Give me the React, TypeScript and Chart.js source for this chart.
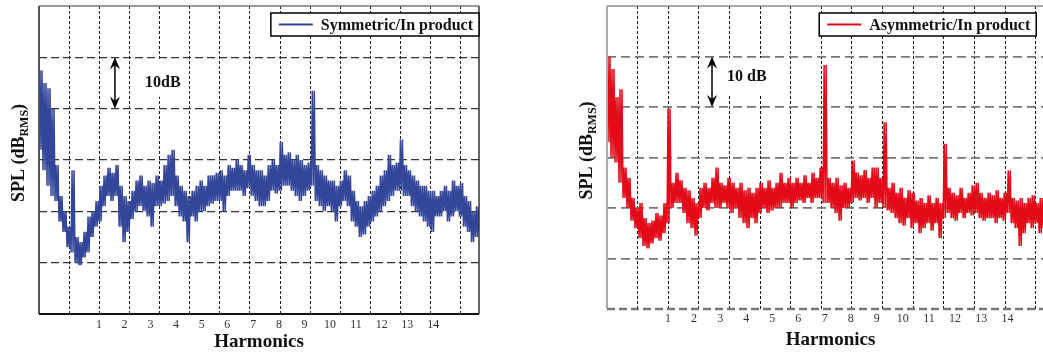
import React, { useEffect, useRef } from "react";
import { Chart, registerables } from "chart.js";

Chart.register(...registerables);

// ---- axis data ----
const harmonicLabels = ["1", "2", "3", "4", "5", "6", "7", "8", "9", "10", "11", "12", "13", "14"];
const harmonicTickPos = [1.99, 2.84, 3.7, 4.55, 5.4, 6.25, 7.11, 7.96, 8.81, 9.66, 10.52, 11.37, 12.22, 13.08];
const gridTickPos = [1, 2, 3, 4, 5, 6, 7, 8, 9, 10, 11, 12, 13, 14];
const dbGridTicks = [10, 20, 30, 40, 50];
const X_MAX = 14.6;
const Y_MIN = 0;
const Y_MAX = 60;

// ---- series (dB, upper / lower edge of the noisy trace, one pair per sample) ----
const symmetricHi = [
  47.5, 45, 44, 40, 29, 23, 20, 17, 28, 15, 14, 16, 19, 20, 22, 25, 27, 28.5, 27.5, 29,
  25, 23, 22, 24, 26, 27, 25, 26, 25.5, 27, 26, 29, 31, 32, 27, 25, 24, 23, 24, 25,
  26, 25, 27, 27, 27.5, 28, 27, 29, 28.5, 30, 29, 28, 31, 29, 28, 28, 27, 29, 30, 29,
  33.5, 31, 31.5, 30, 31, 30, 29, 29.5, 43.5, 29, 28, 27, 26, 26, 25, 26, 28, 27, 24, 22,
  21, 22, 23, 24, 25, 27, 28, 31, 29, 29.5, 34, 29, 28, 27, 26, 25, 25, 24, 24, 23,
  24, 25, 24, 26, 25, 25.5, 23, 22, 20, 21, 20,
];
const symmetricLo = [
  32, 28, 25, 23, 22, 18, 16, 13, 12, 10, 9.5, 11, 12, 15, 17, 18, 21, 23, 22, 23,
  17, 14, 16, 18.5, 20, 21, 20, 19, 17, 21, 21, 21.5, 22, 23, 21, 19, 18, 14, 19, 18,
  20, 20, 21, 21.5, 22, 22, 20, 23, 24, 24, 24, 23, 24.5, 23, 22, 21, 21, 22, 24, 23.5,
  24, 25, 25, 24, 23, 22, 23, 24, 25, 22, 21, 20, 21, 20, 18, 21, 22, 21, 18, 17,
  15, 15.5, 17, 18, 19, 20, 21, 22, 23, 24, 24, 23, 23, 21, 20, 19, 18, 17, 16, 19,
  19, 20, 18, 19, 20, 19, 17, 16, 14, 15, 16,
];
const asymmetricHi = [
  50, 47.5, 42, 43.5, 28, 26, 22, 20, 21, 18, 17, 17.5, 19, 18.5, 21, 39.7, 25, 27, 25.5, 24,
  23.5, 22, 21, 24, 25, 24, 26, 28, 25, 24.5, 26, 25, 24, 25, 23.5, 24, 23, 24, 25, 24,
  25.5, 24, 25, 27, 25, 26, 25, 26, 25, 26.5, 25, 27, 26, 28, 48.3, 26, 25, 26, 24.5, 25,
  24, 29.4, 27, 26.5, 27.5, 26, 28, 28, 26, 37, 24, 25, 23, 24, 22, 23.5, 23, 21.5, 22, 21,
  22.5, 21, 22, 21, 32.7, 24, 23, 22.5, 24, 22, 23, 24.5, 25, 23, 22, 23, 22.5, 23.5, 22, 23,
  27.4, 22, 21.5, 22, 21, 22, 22.5, 21, 22, 21, 21.5, 21, 22,
];
const asymmetricLo = [
  33, 30, 29, 25, 22, 20, 17.5, 16, 14, 12.5, 12, 13, 14, 13.5, 15, 17, 20, 21, 21, 19,
  17, 16, 14.5, 18, 20, 19.5, 21, 20, 20, 21, 20, 19, 20, 18, 17, 16, 18, 17, 19, 20,
  19, 19.5, 20, 20, 21, 21, 20, 21, 21.5, 21, 22, 21, 22, 22, 21, 21, 20, 19, 17.5, 20,
  20, 21, 22, 21.5, 22, 21, 22, 20, 21, 20, 19.5, 19, 18, 17, 16.5, 18, 16, 17, 15, 16,
  17, 15.5, 17, 14, 18, 19, 18, 17.5, 19, 18, 19, 18.5, 19, 18, 17.5, 18, 18, 17, 18, 17.5,
  19, 17, 16, 12.5, 15, 17, 16, 17, 15, 16, 17, 16.5, 17,
];

const SAMPLE_PX = 4;
const SERIF = '"Liberation Serif", "Times New Roman", serif';

type Stroke = { color: string; width: number; dash: number[] } | null;

type Panel = {
  label: string;
  color: string;
  hi: number[];
  lo: number[];
  pxPerGrid: number;
  legendRight: number;
  arrowX: number;
  noteX: number;
  noteY: number;
  noteText: string;
  yAxisWidth: number;
  padRight: number;
  bottomHeight: number;
  tickPad: number;
  titlePadBottom: number;
  hGrid: { color: string; width: number; dash: number[] };
  vGrid: { color: string; width: number; dash: number[] };
  frame: { left: Stroke; top: Stroke; right: Stroke; bottom: Stroke };
};

const leftPanel: Panel = {
  label: "Symmetric/In product",
  color: "#34469a",
  hi: symmetricHi,
  lo: symmetricLo,
  pxPerGrid: 30.1,
  legendRight: 14.6,
  arrowX: 2.52,
  noteX: 3.52,
  noteY: 45,
  noteText: "10dB",
  yAxisWidth: 39,
  padRight: 21,
  bottomHeight: 42,
  tickPad: 4,
  titlePadBottom: 3,
  hGrid: { color: "#333", width: 1.2, dash: [8, 4] },
  vGrid: { color: "#222", width: 1, dash: [3, 2] },
  frame: {
    left: { color: "#555", width: 2, dash: [] },
    top: { color: "#777", width: 1.5, dash: [] },
    right: { color: "#333", width: 1.5, dash: [] },
    bottom: { color: "#111", width: 2, dash: [] },
  },
};

const rightPanel: Panel = {
  label: "Asymmetric/In product",
  color: "#e30b17",
  hi: asymmetricHi,
  lo: asymmetricLo,
  pxPerGrid: 30.6,
  legendRight: 14.02,
  arrowX: 3.43,
  noteX: 3.92,
  noteY: 46,
  noteText: "10 dB",
  yAxisWidth: 47,
  padRight: 6,
  bottomHeight: 47,
  tickPad: 3,
  titlePadBottom: 4.6,
  hGrid: { color: "#777", width: 1.8, dash: [9, 5] },
  vGrid: { color: "#111", width: 1, dash: [3, 2] },
  frame: {
    left: { color: "#aaa", width: 2, dash: [] },
    top: { color: "#888", width: 1.5, dash: [] },
    right: null,
    bottom: { color: "#777", width: 2.5, dash: [8, 4] },
  },
};

// each sample is drawn as two quick lo→hi strokes so the noisy trace reads as a dense band
function buildPoints(p: Panel) {
  const pts: { x: number; y: number }[] = [];
  const q = SAMPLE_PX / 4;
  for (let i = 0; i < p.hi.length; i++) {
    const x0 = i * SAMPLE_PX;
    pts.push({ x: x0 / p.pxPerGrid, y: p.lo[i] });
    pts.push({ x: (x0 + q) / p.pxPerGrid, y: p.hi[i] });
    pts.push({ x: (x0 + 2 * q) / p.pxPerGrid, y: p.lo[i] });
    pts.push({ x: (x0 + 3 * q) / p.pxPerGrid, y: p.hi[i] });
  }
  return pts;
}

function overlayPlugin(p: Panel) {
  return {
    id: "overlay",
    afterDatasetsDraw(chart: any) {
      const { ctx, chartArea: a, scales } = chart;
      const xs = scales.x;
      const ys = scales.y;
      ctx.save();
      const seg = (s: Stroke, x1: number, y1: number, x2: number, y2: number) => {
        if (!s) return;
        ctx.beginPath();
        ctx.strokeStyle = s.color;
        ctx.lineWidth = s.width;
        ctx.setLineDash(s.dash);
        ctx.moveTo(x1, y1);
        ctx.lineTo(x2, y2);
        ctx.stroke();
      };
      seg(p.frame.top, a.left, a.top, a.right, a.top);
      seg(p.frame.right, a.right, a.top, a.right, a.bottom);
      seg(p.frame.left, a.left, a.top, a.left, a.bottom);
      seg(p.frame.bottom, a.left, a.bottom, a.right, a.bottom);
      ctx.setLineDash([]);

      // legend
      ctx.font = `bold 16px ${SERIF}`;
      const tw = ctx.measureText(p.label).width;
      const boxR = xs.getPixelForValue(p.legendRight);
      const boxW = 8 + 34 + 8 + tw + 6;
      const boxL = boxR - boxW;
      const boxT = a.top + 7;
      const boxH = 23;
      ctx.fillStyle = "#fff";
      ctx.fillRect(boxL, boxT, boxW, boxH);
      ctx.strokeStyle = "#000";
      ctx.lineWidth = 1.5;
      ctx.strokeRect(boxL, boxT, boxW, boxH);
      ctx.beginPath();
      ctx.strokeStyle = p.color;
      ctx.lineWidth = 2;
      ctx.moveTo(boxL + 8, boxT + boxH / 2);
      ctx.lineTo(boxL + 42, boxT + boxH / 2);
      ctx.stroke();
      ctx.fillStyle = "#111";
      ctx.textBaseline = "middle";
      ctx.textAlign = "left";
      ctx.fillText(p.label, boxL + 50, boxT + boxH / 2 + 1);

      // 10 dB note
      const y50 = ys.getPixelForValue(50);
      const y40 = ys.getPixelForValue(40);
      const nx = xs.getPixelForValue(p.noteX);
      const ny = ys.getPixelForValue(p.noteY);
      const nw = ctx.measureText(p.noteText).width;
      ctx.fillStyle = "#fff";
      ctx.fillRect(nx - 5, y50 + 1.5, nw + 10, 38);
      ctx.fillStyle = "#111";
      ctx.fillText(p.noteText, nx, ny);

      // double arrow
      const ax = xs.getPixelForValue(p.arrowX);
      ctx.strokeStyle = "#000";
      ctx.fillStyle = "#000";
      ctx.lineWidth = 1.5;
      ctx.beginPath();
      ctx.moveTo(ax, y50 + 6);
      ctx.lineTo(ax, y40 - 6);
      ctx.stroke();
      const head = (y: number, dir: number) => {
        ctx.beginPath();
        ctx.moveTo(ax, y);
        ctx.lineTo(ax - 5, y + dir * 12);
        ctx.lineTo(ax, y + dir * 8);
        ctx.lineTo(ax + 5, y + dir * 12);
        ctx.closePath();
        ctx.fill();
      };
      head(y50, 1);
      head(y40, -1);

      // y-axis title with subscript
      ctx.translate(a.left - 15, (a.top + a.bottom) / 2 - 7);
      ctx.rotate(-Math.PI / 2);
      ctx.textBaseline = "alphabetic";
      ctx.fillStyle = "#111";
      const mainFont = `bold 18px ${SERIF}`;
      const subFont = `bold 12px ${SERIF}`;
      ctx.font = mainFont;
      const w1 = ctx.measureText("SPL (dB").width;
      const w3 = ctx.measureText(")").width;
      ctx.font = subFont;
      const w2 = ctx.measureText("RMS").width;
      const x0 = -(w1 + w2 + w3) / 2;
      ctx.font = mainFont;
      ctx.fillText("SPL (dB", x0, 0);
      ctx.font = subFont;
      ctx.fillText("RMS", x0 + w1, 4);
      ctx.font = mainFont;
      ctx.fillText(")", x0 + w1 + w2, 0);
      ctx.restore();
    },
  };
}

function makeChart(canvas: HTMLCanvasElement, p: Panel) {
  return new Chart(canvas, {
    type: "line",
    data: {
      datasets: [
        {
          label: p.label,
          data: buildPoints(p),
          borderColor: p.color,
          borderWidth: 1.5,
          pointRadius: 0,
          tension: 0,
          fill: false,
        },
      ],
    },
    options: {
      responsive: false,
      animation: false,
      devicePixelRatio: 1,
      layout: { padding: { top: 6, right: p.padRight, left: 0, bottom: 0 } },
      plugins: { legend: { display: false }, tooltip: { enabled: false } },
      scales: {
        x: {
          type: "linear",
          position: "bottom",
          min: 0,
          max: X_MAX,
          afterBuildTicks: (s: any) => {
            s.ticks = gridTickPos.map((v) => ({ value: v }));
          },
          afterFit: (s: any) => {
            s.height = 0;
          },
          ticks: { display: false },
          grid: { color: p.vGrid.color, lineWidth: p.vGrid.width, drawTicks: false },
          border: { display: false, dash: p.vGrid.dash },
        },
        x2: {
          type: "linear",
          position: "bottom",
          min: 0,
          max: X_MAX,
          afterBuildTicks: (s: any) => {
            s.ticks = harmonicTickPos.map((v) => ({ value: v }));
          },
          afterFit: (s: any) => {
            s.height = p.bottomHeight;
          },
          grid: { display: false, drawTicks: false },
          border: { display: false },
          ticks: {
            autoSkip: false,
            maxRotation: 0,
            padding: p.tickPad,
            color: "#333",
            font: { family: SERIF, size: 12 },
            callback: (_v: any, i: number) => harmonicLabels[i],
          },
          title: {
            display: true,
            text: "Harmonics",
            color: "#111",
            font: { family: SERIF, size: 19, weight: "bold" },
            padding: { top: 0, bottom: p.titlePadBottom },
          },
        },
        y: {
          type: "linear",
          min: Y_MIN,
          max: Y_MAX,
          afterBuildTicks: (s: any) => {
            s.ticks = dbGridTicks.map((v) => ({ value: v }));
          },
          afterFit: (s: any) => {
            s.width = p.yAxisWidth;
          },
          ticks: { display: false },
          grid: { color: p.hGrid.color, lineWidth: p.hGrid.width, drawTicks: false },
          border: { display: false, dash: p.hGrid.dash },
        },
      },
    } as any,
    plugins: [overlayPlugin(p)],
  });
}

export default function App() {
  const leftRef = useRef<HTMLCanvasElement>(null);
  const rightRef = useRef<HTMLCanvasElement>(null);

  useEffect(() => {
    const c1 = makeChart(leftRef.current!, leftPanel);
    const c2 = makeChart(rightRef.current!, rightPanel);
    return () => {
      c1.destroy();
      c2.destroy();
    };
  }, []);

  return (
    <div
      style={{
        position: "absolute",
        left: 0,
        top: 0,
        width: 1043,
        height: 356,
        overflow: "hidden",
        background: "#fff",
      }}
    >
      <canvas ref={leftRef} width={500} height={356} style={{ position: "absolute", left: 0, top: 0 }} />
      <canvas ref={rightRef} width={500} height={356} style={{ position: "absolute", left: 560, top: 0 }} />
    </div>
  );
}
